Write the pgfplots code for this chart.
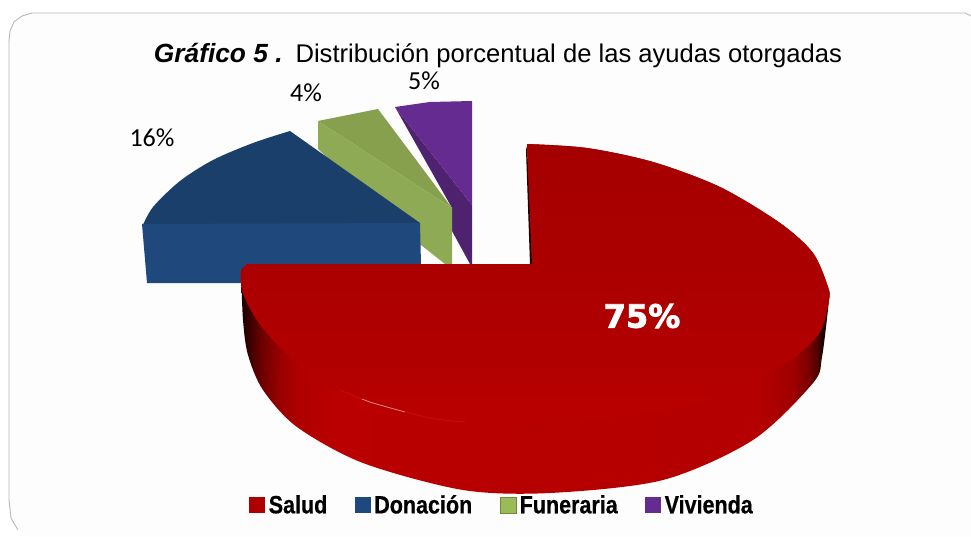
\documentclass[border=0pt]{standalone}
\usepackage{pgfplots}
\pgfplotsset{compat=1.18}
\usepackage{fontspec}
\setmainfont{Liberation Sans}
\newfontfamily\lblfont{Carlito}
\newfontfamily\legfont[FakeStretch=0.86,FakeBold=0.5]{Liberation Sans Bold}
\newfontfamily\heavyfont[FakeBold=2.5]{DejaVu Sans Bold}
\definecolor{rtop}{HTML}{AE0000}
\definecolor{rblue}{HTML}{1F497D}
\definecolor{bluetop}{HTML}{1B3F6B}
\definecolor{grn}{HTML}{9BBB59}
\definecolor{grnline}{HTML}{71893F}
\definecolor{grnfront}{HTML}{8FAA55}
\definecolor{grntop}{HTML}{87A04E}
\definecolor{pur}{HTML}{652B91}
\definecolor{purdark}{HTML}{4F2270}
\definecolor{wa}{HTML}{180000}
\definecolor{wb}{HTML}{300000}
\definecolor{wc}{HTML}{700000}
\definecolor{wc2}{HTML}{9A0000}
\definecolor{wd}{HTML}{B00000}
\definecolor{we}{HTML}{BA0000}
\definecolor{wf}{HTML}{B40000}
\definecolor{wg}{HTML}{A00000}
\definecolor{wg2}{HTML}{800000}
\definecolor{wh}{HTML}{500000}
\definecolor{wi}{HTML}{200000}
\definecolor{ta}{HTML}{BA0000}
\definecolor{tb}{HTML}{B20000}
\definecolor{tc}{HTML}{AC0000}
\definecolor{td}{HTML}{A50000}
\pgfdeclarehorizontalshading{redwall}{100bp}{%
 color(0bp)=(wa); color(25bp)=(wa);
 color(25.5bp)=(wb);
 color(26.8bp)=(wc);
 color(28.3bp)=(wc2);
 color(30bp)=(wd);
 color(33bp)=(we);
 color(69bp)=(wf);
 color(71.9bp)=(wg);
 color(73.1bp)=(wg2);
 color(74bp)=(wh);
 color(74.4bp)=(wi); color(100bp)=(wi)}
\pgfdeclareverticalshading{redtop}{100bp}{%
 color(0bp)=(ta); color(25bp)=(ta);
 color(36bp)=(tb);
 color(50bp)=(tc);
 color(75bp)=(td); color(100bp)=(td)}
\begin{document}
\begin{tikzpicture}
\begin{axis}[
  width=971pt,height=537pt,scale only axis,
  xmin=0,xmax=971,ymin=0,ymax=537,y dir=reverse,
  hide axis,clip=true,
  reverse legend,
  legend columns=4,
  legend style={draw=none,fill=none,at={(axis cs:502,505)},anchor=center,
    font=\legfont\fontsize{25}{27}\selectfont,
    /tikz/every even column/.append style={column sep=25.5pt},
    inner sep=0pt},
  legend image code/.code={\path[#1] (0pt,-8pt) rectangle (16pt,8pt);\path[draw=none,fill=none] (0pt,0pt) -- (17.5pt,0pt);},
]
% page
\addplot[forget plot,draw=none,fill=white] coordinates {(0,0) (971,0) (971,537) (0,537)} -- cycle;
% panel
\addplot[forget plot,draw=none,fill=black!0.8] coordinates {
 (971,16) (965,13) (32,13) (22,16) (14,22) (10,31) (9,41) (9,500) (11,518) (18,530) (28,536) (971,536)} -- cycle;
\addplot[forget plot,no marks,draw=black!28,line width=0.9pt] coordinates {
 (971,16) (965,13) (32,13) (22,16) (14,22) (10,31) (9,41) (9,500) (11,518) (18,530)};
% purple slice
\addplot[forget plot,draw=none,fill=purdark] coordinates {
 (395,107) (472,205) (472,264) (470,264) (452,231) (452,208)} -- cycle;
\addplot[fill=pur,draw=none] coordinates {
 (395,107) (430,102) (472,101) (472,205)} -- cycle;
% green slice
\addplot[forget plot,draw=none,fill=grntop] coordinates {
 (318,121) (378,109) (452,208)} -- cycle;
\addplot[fill=grn,draw=grnline,line width=1pt] coordinates {
 (320,124) (450,209) (450,262) (446,262) (421,243) (320,148)} -- cycle;
\addplot[forget plot,fill=grnfront,draw=none] coordinates {
 (318,121) (452,208) (452,264) (445,264) (421,245) (318,149)} -- cycle;
% blue slice
\addplot[forget plot,draw=none,fill=bluetop,smooth] coordinates {
 (290,131) (253,143) (213,160) (180,181) (153,207) (142,227)} -- (axis cs:420,223) -- cycle;
\addplot[fill=rblue,draw=none] coordinates {
 (142,224) (420,223) (421,265) (421,283) (147,283)} -- cycle;
% red notch wall
\addplot[forget plot,draw=none,fill=wa] coordinates {
 (526,150) (527,146) (534,264) (530,264)} -- cycle;
% red side wall
\addplot[forget plot,draw=none,shading=redwall,smooth] coordinates {
 (241,270) (243,320) (248,355) (263,390) (297,427) (363,463) (463,490) (550,493)
 (663,480) (753,440) (813,383) (822,357) (829,300)} -- (axis cs:530,300) -- cycle;
% red top
\addplot[fill=rtop,draw=none,smooth] coordinates {
 (527,144) (587,148) (653,162) (720,187) (780,223) (813,253) (828,287) (829,300)
 (820,332) (795,357) (760,377) (700,403) (620,417) (520,423) (480,423) (430,418)
 (373,403) (320,382) (280,347) (257,320) (243,293) (241,272) (247,264)} -- (axis cs:532,264) -- cycle;
\addplot[forget plot,draw=none,shading=redtop,smooth] coordinates {
 (527,144) (587,148) (653,162) (720,187) (780,223) (813,253) (828,287) (829,300)
 (820,332) (795,357) (760,377) (700,403) (620,417) (520,423) (480,423) (430,418)
 (373,403) (320,382) (280,347) (257,320) (243,293) (241,272) (247,264)} -- (axis cs:532,264) -- cycle;
% highlight along the rim
\addplot[forget plot,smooth,no marks,color=red!70!white,opacity=0.18,line width=1pt] coordinates {
 (340,390) (373,403) (430,418) (465,422)};
\addplot[forget plot,smooth,no marks,color=white,opacity=0.5,line width=0.8pt] coordinates {
 (362,399) (373,403) (405,412)};
\legend{Vivienda,Funeraria,Donación,Salud}
% texts
\node[anchor=center,inner sep=0pt] at (axis cs:498,56)
  {{\fontsize{26.3}{27}\selectfont\textbf{\textit{Gráfico 5 .}}}\hspace{13pt}{\fontsize{25.6}{27}\selectfont Distribución porcentual de las ayudas otorgadas}};
\node[font=\lblfont\fontsize{26}{28}\selectfont] at (axis cs:152,138) {16\%};
\node[font=\lblfont\fontsize{26}{28}\selectfont] at (axis cs:306,93) {4\%};
\node[font=\lblfont\fontsize{26}{28}\selectfont] at (axis cs:424,81) {5\%};
\node[font=\heavyfont\fontsize{32}{34}\selectfont,text=white] at (axis cs:642,316) {75\%};
\end{axis}
\end{tikzpicture}
\end{document}
